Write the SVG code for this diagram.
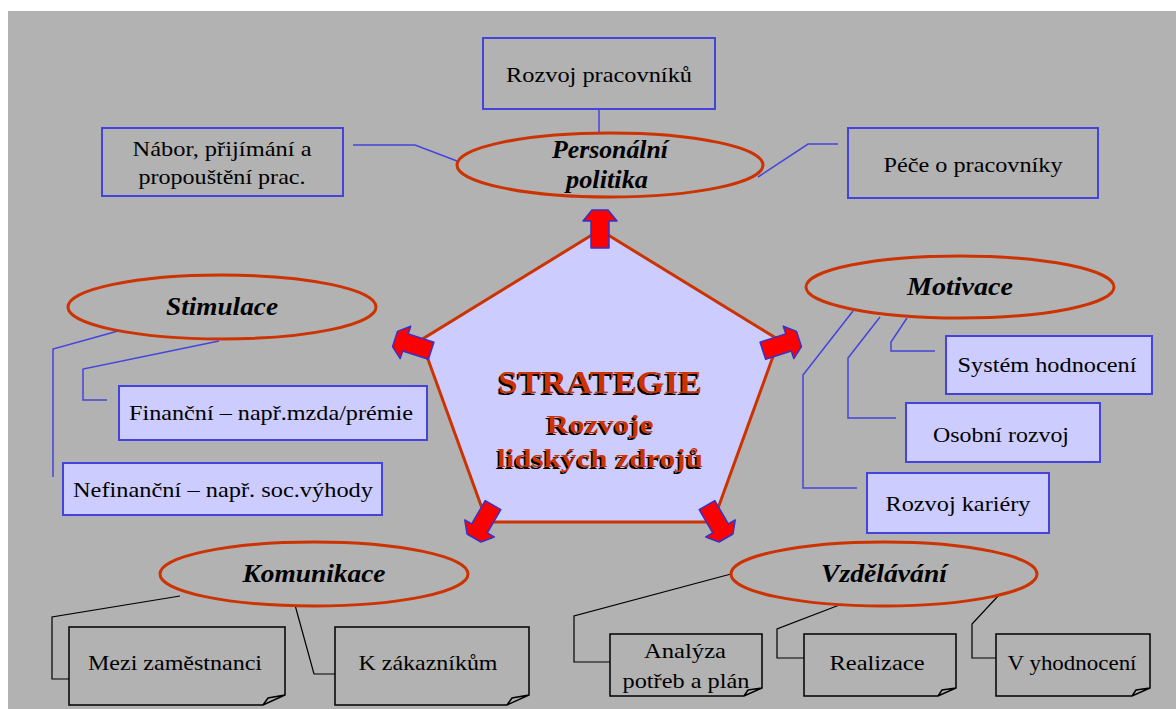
<svg xmlns="http://www.w3.org/2000/svg" width="1176" height="709" viewBox="0 0 1176 709">
<style>
text{font-family:'Liberation Serif','FreeSerif','Noto Serif','Times New Roman',serif}
.t{font-size:22px;fill:#000;text-anchor:middle}
.h{font-size:25px;font-weight:bold;font-style:italic;fill:#000;text-anchor:middle}
.c{font-weight:bold;text-anchor:middle}
.el{fill:none;stroke:#cc3300;stroke-width:3}
.bb{fill:none;stroke:#4444dd;stroke-width:2}
.bf{fill:#ccccff;stroke:#4444dd;stroke-width:2}
.bl{fill:none;stroke:#4444dd;stroke-width:1.5}
.kl{fill:none;stroke:#000;stroke-width:1.2}
.nb{fill:none;stroke:#000;stroke-width:1.5}
.ar{fill:#ff0000;stroke:#3333cc;stroke-width:1.5;stroke-linejoin:round}
</style>
<defs>
<polygon id="arrow" points="-38,-9 -11,-9 -11,-17 0,-8 0,8 -11,17 -11,9 -38,9"/>
</defs>
<rect x="0" y="0" width="1176" height="709" fill="#ffffff"/>
<rect x="8" y="11" width="1168" height="698" fill="#b2b2b2"/>

<g id="connectors">
<polyline class="bl" points="353,145 415,145 457,161"/>
<line class="bl" x1="599" y1="109" x2="599" y2="134"/>
<polyline class="bl" points="838,144 808,144 758,177"/>
<polyline class="bl" points="118,331 53,349 53,477"/>
<polyline class="bl" points="219,341 83,369 83,400 107,400"/>
<polyline class="bl" points="853,311 803,375 803,488 857,488"/>
<polyline class="bl" points="880,317 848,358 848,418 896,418"/>
<polyline class="bl" points="907,318 891,342 891,351 935,351"/>
<polyline class="kl" points="180,596 52,617 52,679 69,679"/>
<polyline class="kl" points="295,605 314,674 335,674"/>
<polyline class="kl" points="731,574 574,616 574,662 610,662"/>
<polyline class="kl" points="842,604 777,629 777,658 804,658"/>
<polyline class="kl" points="999,595 972,624 972,658 996,658"/>
</g>

<g id="strategie">
<polygon points="600,230 779,340 713,522 487,522 421,340" fill="#ccccff" stroke="#cc3300" stroke-width="3" stroke-linejoin="miter"/>
<use href="#arrow" class="ar" transform="translate(600,210) rotate(-90)"/>
<use href="#arrow" class="ar" transform="translate(395,339) rotate(198)"/>
<use href="#arrow" class="ar" transform="translate(799,339) rotate(-18)"/>
<use href="#arrow" class="ar" transform="translate(474,538) rotate(120)"/>
<use href="#arrow" class="ar" transform="translate(726,538) rotate(60)"/>
<text class="c" x="598.5" y="394.5" font-size="32" textLength="204" lengthAdjust="spacingAndGlyphs" fill="#000">STRATEGIE</text>
<text class="c" x="600" y="393" font-size="32" textLength="204" lengthAdjust="spacingAndGlyphs" fill="#cc3300">STRATEGIE</text>
<text class="c" x="598.5" y="434.5" font-size="26" textLength="107" lengthAdjust="spacingAndGlyphs" fill="#000">Rozvoje</text>
<text class="c" x="600" y="433" font-size="26" textLength="107" lengthAdjust="spacingAndGlyphs" fill="#cc3300">Rozvoje</text>
<text class="c" x="598.5" y="468.5" font-size="26" textLength="206" lengthAdjust="spacingAndGlyphs" fill="#000">lidských zdrojů</text>
<text class="c" x="600" y="467" font-size="26" textLength="206" lengthAdjust="spacingAndGlyphs" fill="#cc3300">lidských zdrojů</text>
</g>

<g id="personalni">
<ellipse class="el" cx="610" cy="165" rx="153" ry="32"/>
<text class="h" x="610" y="158" textLength="116" lengthAdjust="spacingAndGlyphs">Personální</text>
<text class="h" x="607" y="188" textLength="82" lengthAdjust="spacingAndGlyphs">politika</text>
</g>
<g id="rozvoj-pracovniku">
<rect class="bb" x="483" y="38" width="232" height="71"/>
<text class="t" x="599" y="82" textLength="186" lengthAdjust="spacingAndGlyphs">Rozvoj pracovníků</text>
</g>
<g id="nabor">
<rect class="bb" x="102" y="128" width="241" height="68"/>
<text class="t" x="222" y="156" textLength="179" lengthAdjust="spacingAndGlyphs">Nábor, přijímání a</text>
<text class="t" x="222" y="184" textLength="167" lengthAdjust="spacingAndGlyphs">propouštění prac.</text>
</g>
<g id="pece">
<rect class="bb" x="848" y="128" width="250" height="70"/>
<text class="t" x="973" y="172" textLength="179" lengthAdjust="spacingAndGlyphs">Péče o pracovníky</text>
</g>

<g id="stimulace">
<ellipse class="el" cx="222" cy="307" rx="154" ry="32"/>
<text class="h" x="222" y="315" textLength="112" lengthAdjust="spacingAndGlyphs">Stimulace</text>
</g>
<g id="financni">
<rect class="bf" x="119" y="386" width="308" height="54"/>
<text class="t" x="271" y="420" textLength="284" lengthAdjust="spacingAndGlyphs">Finanční – např.mzda/prémie</text>
</g>
<g id="nefinancni">
<rect class="bf" x="63" y="463" width="319" height="52"/>
<text class="t" x="223" y="497" textLength="300" lengthAdjust="spacingAndGlyphs">Nefinanční – např. soc.výhody</text>
</g>

<g id="motivace">
<ellipse class="el" cx="960" cy="287" rx="154" ry="31"/>
<text class="h" x="960" y="295" textLength="106" lengthAdjust="spacingAndGlyphs">Motivace</text>
</g>
<g id="system">
<rect class="bf" x="946" y="336" width="206" height="58"/>
<text class="t" x="1047" y="372" textLength="179" lengthAdjust="spacingAndGlyphs">Systém hodnocení</text>
</g>
<g id="osobni">
<rect class="bf" x="906" y="403" width="194" height="59"/>
<text class="t" x="1001" y="442" textLength="136" lengthAdjust="spacingAndGlyphs">Osobní rozvoj</text>
</g>
<g id="kariera">
<rect class="bf" x="867" y="473" width="182" height="60"/>
<text class="t" x="958" y="511" textLength="145" lengthAdjust="spacingAndGlyphs">Rozvoj kariéry</text>
</g>

<g id="komunikace">
<ellipse class="el" cx="314" cy="574" rx="154" ry="32"/>
<text class="h" x="314" y="582" textLength="143" lengthAdjust="spacingAndGlyphs">Komunikace</text>
</g>
<g id="mezi">
<path class="nb" d="M69,627 H285 V695 L263,705 H69 Z M263,705 L268,698 L285,695"/>
<text class="t" x="175" y="670" textLength="174" lengthAdjust="spacingAndGlyphs">Mezi zaměstnanci</text>
</g>
<g id="zakaznikum">
<path class="nb" d="M335,627 H529 V695 L507,705 H335 Z M507,705 L512,698 L529,695"/>
<text class="t" x="428" y="670" textLength="139" lengthAdjust="spacingAndGlyphs">K zákazníkům</text>
</g>

<g id="vzdelavani">
<ellipse class="el" cx="884" cy="574" rx="153" ry="32"/>
<text class="h" x="884" y="582" textLength="126" lengthAdjust="spacingAndGlyphs">Vzdělávání</text>
</g>
<g id="analyza">
<path class="nb" d="M610,634 H762 V688 L744,696 H610 Z M744,696 L748,690 L762,688"/>
<text class="t" x="685" y="658" textLength="82" lengthAdjust="spacingAndGlyphs">Analýza</text>
<text class="t" x="686" y="688" textLength="127" lengthAdjust="spacingAndGlyphs">potřeb a plán</text>
</g>
<g id="realizace">
<path class="nb" d="M804,634 H956 V688 L938,696 H804 Z M938,696 L942,690 L956,688"/>
<text class="t" x="877" y="670" textLength="95" lengthAdjust="spacingAndGlyphs">Realizace</text>
</g>
<g id="vyhodnoceni">
<path class="nb" d="M996,634 H1150 V688 L1132,696 H996 Z M1132,696 L1136,690 L1150,688"/>
<text class="t" x="1072" y="670" textLength="129" lengthAdjust="spacingAndGlyphs">V yhodnocení</text>
</g>
</svg>
